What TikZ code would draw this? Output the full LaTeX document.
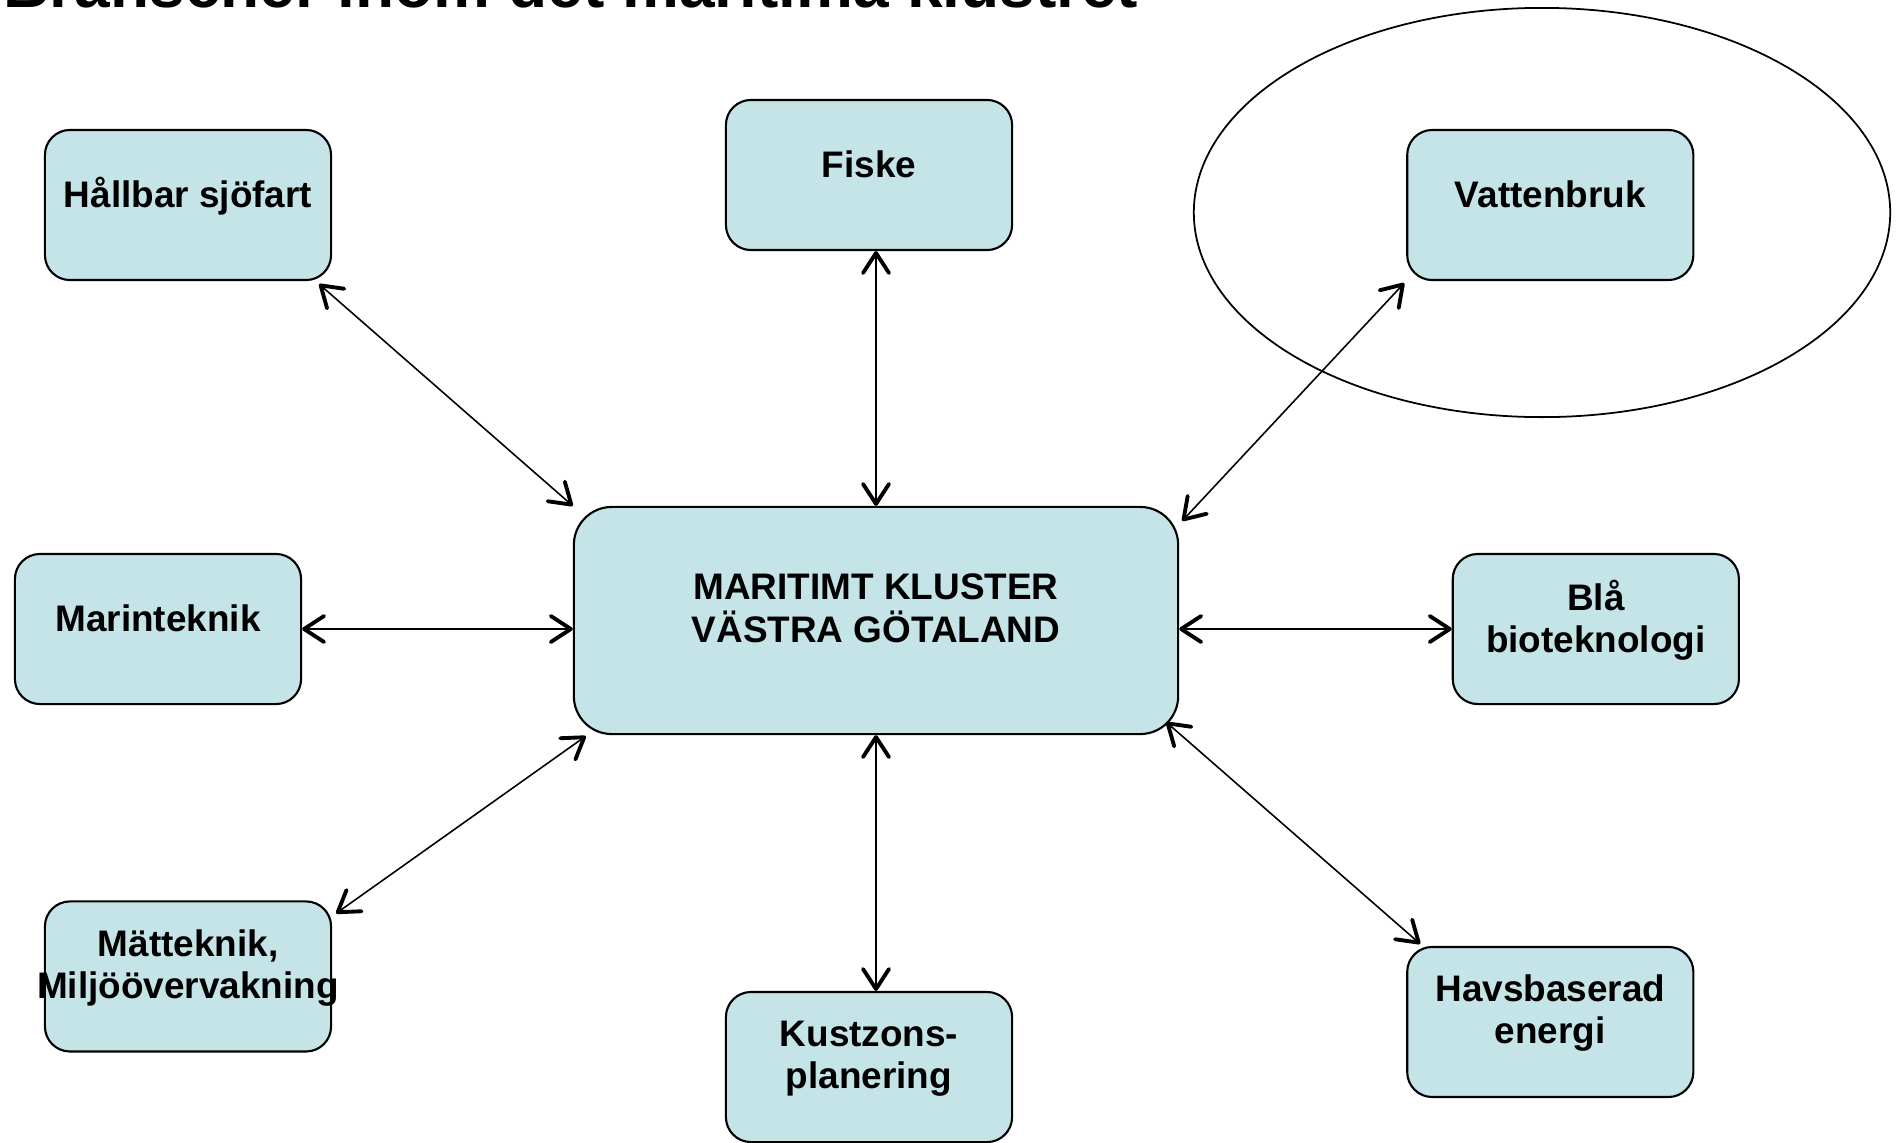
\documentclass[tikz,border=0pt]{standalone}
\usepackage{fontspec}
\setmainfont{Liberation Sans}
\usepackage{xcolor}
\usepackage{tikz}
\usetikzlibrary{positioning,arrows.meta}

\definecolor{boxfill}{RGB}{197,228,232}

\begin{document}
\begin{tikzpicture}[
x=0.01cm, y=0.01cm,
box/.style={rectangle, rounded corners=2.5mm, draw=black, fill=boxfill, line width=0.6pt, minimum width=28.6mm, minimum height=15mm, align=center, execute at begin node=\strut, text depth=7.1pt, font=\bfseries\fontsize{10.5}{12}\selectfont},
bigbox/.style={box, rounded corners=3.8mm, minimum width=60.4mm, minimum height=22.7mm},
barb/.style={line width=0.45pt, {Straight Barb[length=2mm,width=2.6mm,line width=1.1pt,round]}-{Straight Barb[length=2mm,width=2.6mm,line width=1.1pt,round]}}
]
\useasboundingbox (0,0) rectangle (1903,-1142);
\clip (0,0) rectangle (1903,-1142);

\node[anchor=base west, inner sep=0, font=\bfseries\fontsize{18.2}{21}\selectfont](title) at (3,-7) {Branscher inom det maritima klustret};

\draw[line width=0.5pt] (1542,-212.5) ellipse [x radius=3.48cm, y radius=2.045cm];

\node[bigbox](klustret) at (876,-620.5) {MARITIMT KLUSTER\\VÄSTRA GÖTALAND};

\node[box](hallbar) at (188,-205) {Hållbar sjöfart};
\node[box](vattenbruk)[right of = hallbar, node distance=13.615cm]{Vattenbruk};
\node[box](matteknik)[below of = hallbar, node distance=7.71cm]{Mätteknik,\\\makebox[0pt]{Miljöövervakning}};
\node[box](havsenergi)[below of = vattenbruk, node distance=8.165cm]{Havsbaserad\\energi};

\node[box](fiske) at (869,-175) {Fiske};
\node[box](kustzon)[below of = fiske, node distance=8.915cm]{Kustzons-\\planering};

\node[box](marinteknik) at (158,-629) {Marinteknik};
\node[box](blabio)[right of = marinteknik, node distance=14.37cm]{Blå\\bioteknologi};

\draw[barb] ([shift={(-13,-3)}]hallbar.south east) -- (klustret.north west);
\draw[barb] (fiske.south -| klustret.north) -- (klustret.north);
\draw[barb] ([shift={(-2,-2)}]vattenbruk.south west) -- ([shift={(3,-15)}]klustret.north east);
\draw[barb] (marinteknik.east) -- (marinteknik.east -| klustret.west);
\draw[barb] (klustret.east |- blabio.west) -- (blabio.west);
\draw[barb] ([shift={(4,-13)}]matteknik.north east) -- ([shift={(13,-1)}]klustret.south west);
\draw[barb] (klustret.south) -- (kustzon.north -| klustret.south);
\draw[barb] ([shift={(-13,13)}]klustret.south east) -- ([shift={(14,2)}]havsenergi.north west);

\end{tikzpicture}
\end{document}
